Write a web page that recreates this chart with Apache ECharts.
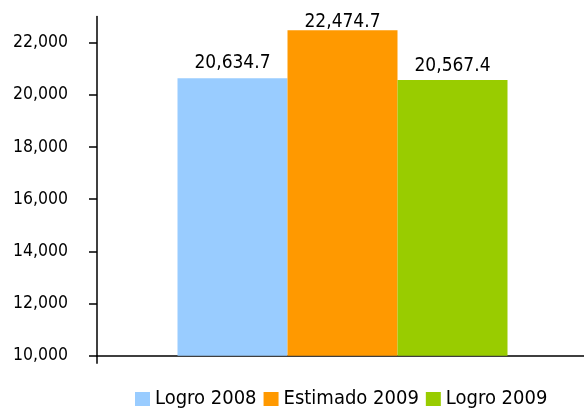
<!DOCTYPE html>
<html>
<head>
<meta charset="utf-8">
<script src="https://cdn.jsdelivr.net/npm/echarts@6/dist/echarts.min.js"></script>
<style>
    html, body { margin: 0; padding: 0; background: #fff; }
    #main { width: 584px; height: 409px; }
</style>
</head>
<body>
<div id="main"></div>
<script>
var seriesNames = ['Logro 2008', 'Estimado 2009', 'Logro 2009'];
var seriesValues = [20634.7, 22474.7, 20567.4];
var seriesColors = ['#99ccff', '#ff9900', '#99cc00'];
var yTicks = [10000, 12000, 14000, 16000, 18000, 20000, 22000];
// label offset above each bar (orange one sits almost on the bar)
var labelDistance = [6, -1, 4];

var fontName = '"DejaVu Sans Condensed", "DejaVu Sans", sans-serif';

var myChart = echarts.init(document.getElementById('main'));

function fmt(v) {
    return v.toLocaleString('en-US', {minimumFractionDigits: 1, maximumFractionDigits: 1});
}

var series = seriesNames.map(function (name, i) {
    return {
        name: name,
        type: 'bar',
        barWidth: 110,
        barGap: 0,
        itemStyle: { color: seriesColors[i] },
        label: {
            show: true,
            position: 'top',
            distance: labelDistance[i],
            color: '#000',
            fontFamily: fontName,
            fontSize: 19,
            formatter: function (p) { return fmt(p.value); }
        },
        data: [seriesValues[i]]
    };
});

myChart.setOption({
    animation: false,
    textStyle: { fontFamily: fontName },
    grid: {
        left: 97,
        right: -4,
        top: 16.6,
        bottom: 53.3,
        containLabel: false,
        outerBoundsMode: 'none'
    },
    legend: {
        data: seriesNames,
        left: 135,
        top: 389,
        padding: 0,
        icon: 'rect',
        itemWidth: 15,
        itemHeight: 14,
        itemGap: 7,
        textStyle: {
            fontFamily: fontName,
            fontSize: 20,
            color: '#000'
        }
    },
    xAxis: {
        type: 'category',
        data: [''],
        axisLine: { lineStyle: { color: '#000', width: 1.5 } },
        axisTick: { show: true, length: 8, lineStyle: { color: '#000', width: 1.5 } },
        axisLabel: { show: false }
    },
    yAxis: {
        type: 'value',
        min: 10000,
        max: 23000,
        interval: 2000,
        splitLine: { show: false },
        axisLine: { show: true, lineStyle: { color: '#000', width: 1.5 } },
        axisTick: {
            show: true,
            length: 8,
            customValues: yTicks,
            lineStyle: { color: '#000', width: 1.5 }
        },
        axisLabel: {
            customValues: yTicks,
            margin: 29,
            color: '#000',
            fontFamily: fontName,
            fontSize: 17.5,
            formatter: function (v) { return v.toLocaleString('en-US'); }
        }
    },
    series: series
});
</script>
</body>
</html>
